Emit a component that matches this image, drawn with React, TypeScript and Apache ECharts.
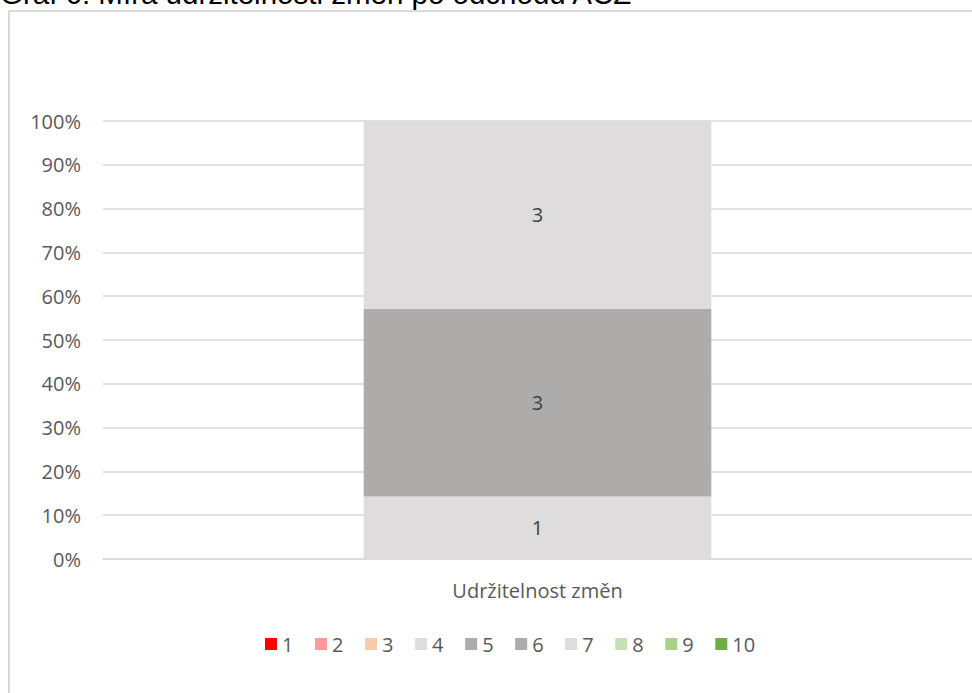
import React, { useEffect, useRef } from "react";
import * as echarts from "echarts";

const titleText = "Graf 6: Míra udržitelnosti změn po odchodu ACZ";
const categories = ["Udržitelnost změn"];
const seriesNames = ["1", "2", "3", "4", "5", "6", "7", "8", "9", "10"];
// answer counts per series (one value per category)
const seriesCounts: number[][] = [[0], [0], [0], [1], [3], [0], [3], [0], [0], [0]];
const seriesColors = [
  "#FF0000",
  "#FF9999",
  "#F8CBAD",
  "#DEDCDD",
  "#ADACAA",
  "#ADACAA",
  "#DEDCDD",
  "#C5E0B4",
  "#A9D18E",
  "#70AD47",
];

const FONT = "'Open Sans', 'Noto Sans', sans-serif";

export default function App() {
  const ref = useRef<HTMLDivElement>(null);
  useEffect(() => {
    if (!ref.current) return;
    const chart = echarts.init(ref.current, undefined, { renderer: "svg" });
    const totals = categories.map((_, ci) =>
      seriesCounts.reduce((s, arr) => s + arr[ci], 0)
    );
    const series = seriesNames.map((name, si) => ({
      name,
      type: "bar",
      stack: "total",
      barWidth: "40%",
      itemStyle: { color: seriesColors[si] },
      emphasis: { disabled: true },
      data: seriesCounts[si].map((v, ci) => (totals[ci] ? (v / totals[ci]) * 100 : 0)),
      label: {
        show: true,
        position: "inside",
        color: "#404040",
        fontFamily: FONT,
        fontSize: 20,
        formatter: (p: any) => {
          const c = seriesCounts[si][p.dataIndex];
          return c > 0 ? String(c) : "";
        },
      },
    }));
    chart.setOption({
      animation: false,
      backgroundColor: "#ffffff",
      textStyle: { fontFamily: FONT },
      graphic: [
        {
          type: "rect",
          shape: { x: 9, y: 11, width: 1200, height: 1000 },
          style: { fill: "none", stroke: "#D9D9D9", lineWidth: 2 },
          silent: true,
          z: -1,
        },
        {
          type: "text",
          x: 0,
          y: -22,
          style: {
            text: titleText,
            fill: "#000000",
            font: "29.5px 'Liberation Sans', Arial, sans-serif",
            verticalAlign: "top",
            align: "left",
          },
          silent: true,
        },
      ],
      grid: { left: 103, right: 0, top: 121, bottom: 134, containLabel: false },
      legend: {
        data: seriesNames,
        left: 260,
        top: 629,
        icon: "rect",
        itemWidth: 12,
        itemHeight: 12,
        itemGap: 21.6,
        selectedMode: false,
        textStyle: { color: "#595959", fontSize: 20, fontFamily: FONT },
      },
      xAxis: {
        type: "category",
        data: categories,
        axisLine: { show: true, lineStyle: { color: "#D9D9D9", width: 1.5 } },
        axisTick: { show: false },
        axisLabel: { color: "#595959", fontSize: 20, fontFamily: FONT, margin: 21 },
      },
      yAxis: {
        type: "value",
        min: 0,
        max: 100,
        interval: 10,
        axisLine: { show: false },
        axisTick: { show: false },
        splitLine: { lineStyle: { color: "#D9D9D9", width: 1.5 } },
        axisLabel: {
          color: "#595959",
          fontSize: 20,
          fontFamily: FONT,
          margin: 22,
          formatter: "{value}%",
        },
      },
      series,
    });
    return () => chart.dispose();
  }, []);
  return (
    <div
      ref={ref}
      style={{ position: "absolute", left: 0, top: 0, width: 972, height: 693 }}
    />
  );
}
